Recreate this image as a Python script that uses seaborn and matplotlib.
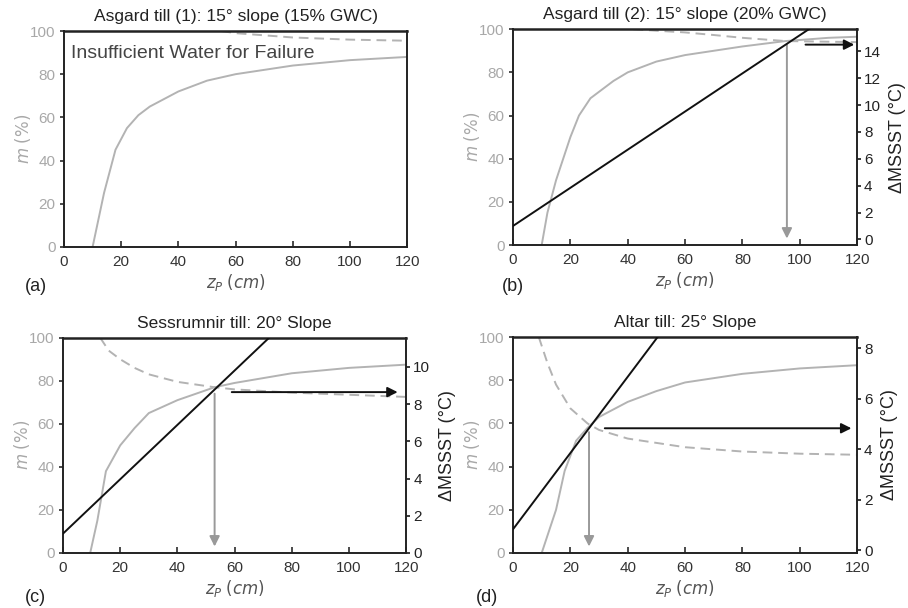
import numpy as np
import pandas as pd
import seaborn as sns
import matplotlib.pyplot as plt

# m (%) vs z_P (cm)
z_a = [10, 14, 18, 22, 26, 30, 40, 50, 60, 80, 100, 120]
m_a = [0, 25, 45, 55, 61, 65, 72, 77, 80, 84, 86.5, 88]
zd_a = [55, 60, 70, 80, 100, 120]
md_a = [100, 99, 98, 97, 96, 95.5]

z_b = [10, 12, 15, 18, 20, 23, 27, 35, 40, 50, 60, 80, 95, 110, 120]
m_b = [0, 15, 30, 42, 50, 60, 68, 76, 80, 85, 88, 92, 94.5, 96, 96.5]
zd_b = [42, 50, 60, 70, 80, 95, 110, 120]
md_b = [100, 99.3, 98.5, 97.3, 96, 94.5, 94.2, 94]

z_c = [9.5, 12, 15, 20, 25, 30, 40, 53, 60, 80, 100, 120]
m_c = [0, 15, 38, 50, 58, 65, 71, 77, 79, 83.5, 86, 87.5]
zd_c = [13, 16, 20, 25, 30, 40, 53, 60, 80, 100, 120]
md_c = [100, 94, 90, 86, 83, 79.5, 77, 76, 74.5, 73.5, 72.5]

z_d = [10, 15, 18, 22, 26, 30, 40, 50, 60, 80, 100, 120]
m_d = [0, 20, 38, 52, 58, 63, 70, 75, 79, 83, 85.5, 87]
zd_d = [9, 10.5, 12, 15, 20, 26, 30, 40, 60, 80, 100, 120]
md_d = [100, 94, 88, 78, 67, 60, 57, 53, 49, 47, 46, 45.5]

# delta MSSST (degC) line, ends at z = 0 and 120
z_line = [0, 120]
t_b = [1.0, 18.04]
t_c = [1.04, 18.56]
t_d = [0.84, 18.96]

# arrows: down arrow (z, m_from, m_to), right arrow (z_from, z_to, dT)
down_b, right_b = (95.5, 93, 3), (102, 119, 14.5)
down_c, right_c = (53, 74, 3), (59, 117, 8.64)
down_d, right_d = (26.5, 56, 3), (32, 118, 4.84)

titles = ['Asgard till (1): 15° slope (15% GWC)',
          'Asgard till (2): 15° slope (20% GWC)',
          'Sessrumnir till: 20° Slope',
          'Altar till: 25° Slope']
letters = ['(a)', '(b)', '(c)', '(d)']
right_ylims = [None, (-0.42, 15.65), (0, 11.56), (-0.1, 8.45)]
right_ticks = [None, range(0, 15, 2), range(0, 11, 2), range(0, 9, 2)]

sns.set_theme(style='ticks')
plt.rcParams['font.family'] = ['Liberation Sans', 'DejaVu Sans']

GRAY = '#b3b3b3'
TICKGRAY = '#a8a8a8'
fig = plt.figure(figsize=(9.08, 6.08), dpi=100)
boxes = [[0.0705, 0.594, 0.378, 0.355], [0.565, 0.597, 0.379, 0.355],
         [0.0694, 0.0905, 0.378, 0.354], [0.565, 0.0905, 0.379, 0.355]]
letter_pos = [(-0.114, -0.185), (-0.032, -0.19), (-0.11, -0.205), (-0.107, -0.205)]

curves = [(z_a, m_a, zd_a, md_a), (z_b, m_b, zd_b, md_b),
          (z_c, m_c, zd_c, md_c), (z_d, m_d, zd_d, md_d)]
lines = [None, t_b, t_c, t_d]
downs = [None, down_b, down_c, down_d]
rights = [None, right_b, right_c, right_d]

for i in range(4):
    ax = fig.add_axes(boxes[i])
    z, m, zd, md = curves[i]
    sns.lineplot(x=z, y=m, ax=ax, color=GRAY, lw=1.4)
    sns.lineplot(x=zd, y=md, ax=ax, color=GRAY, lw=1.4, linestyle=(0, (5, 3)))
    ax.set_xlim(0, 120)
    ax.set_ylim(0, 100)
    ax.set_xticks(range(0, 121, 20))
    ax.set_yticks(range(0, 101, 20))
    ax.tick_params(axis='x', direction='in', length=4, labelsize=11, colors='#333333', pad=6)
    ax.tick_params(axis='y', direction='out', length=3, labelsize=11, labelcolor=TICKGRAY,
                   color='#333333', pad=3)
    for s in ax.spines.values():
        s.set_color('#222222')
        s.set_linewidth(1.4)
        s.set_visible(True)
    ax.spines['top'].set_linewidth(1.8)
    ax.set_title(titles[i], fontsize=12.5, pad=7, color='#222222')
    ax.set_xlabel(r'$z_P$ $(cm)$', fontsize=12, color='#555555', labelpad=2)
    ax.set_ylabel(r'$m$ $(\%)$', fontsize=12, color=TICKGRAY, labelpad=-2)
    ax.text(letter_pos[i][0], letter_pos[i][1], letters[i], transform=ax.transAxes,
            fontsize=13, color='#222222', ha='left', va='center')

    if i == 0:
        ax.text(2.5, 89.5, 'Insufficient Water for Failure', fontsize=14,
                color='#444444', ha='left', va='center')
        continue

    dz, m0, m1 = downs[i]
    ax.annotate('', xy=(dz, m1), xytext=(dz, m0),
                arrowprops=dict(arrowstyle='-|>', color='#999999', lw=1.4,
                                mutation_scale=15, shrinkA=0, shrinkB=0))

    ax2 = ax.twinx()
    sns.lineplot(x=z_line, y=lines[i], ax=ax2, color='#111111', lw=1.4)
    ax2.set_ylim(*right_ylims[i])
    ax2.set_yticks(list(right_ticks[i]))
    ax2.set_xlim(0, 120)
    ax2.tick_params(axis='y', direction='out', length=3, labelsize=11, colors='#222222', pad=2)
    for s in ax2.spines.values():
        s.set_visible(False)
    x0, x1, t = rights[i]
    ax2.annotate('', xy=(x1, t), xytext=(x0, t),
                 arrowprops=dict(arrowstyle='-|>', color='#111111', lw=1.4,
                                 mutation_scale=15, shrinkA=0, shrinkB=0))
    ax2.set_ylabel('ΔMSSST (°C)', fontsize=13, color='#222222', labelpad=6)

fig.savefig('out.png', dpi=100)
